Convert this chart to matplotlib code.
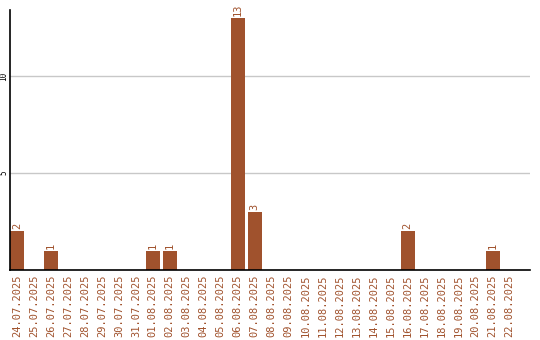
import matplotlib
matplotlib.use("Agg")
import matplotlib.pyplot as plt

dates = ["24.07.2025", "25.07.2025", "26.07.2025", "27.07.2025", "28.07.2025",
         "29.07.2025", "30.07.2025", "31.07.2025", "01.08.2025", "02.08.2025",
         "03.08.2025", "04.08.2025", "05.08.2025", "06.08.2025", "07.08.2025",
         "08.08.2025", "09.08.2025", "10.08.2025", "11.08.2025", "12.08.2025",
         "13.08.2025", "14.08.2025", "15.08.2025", "16.08.2025", "17.08.2025",
         "18.08.2025", "19.08.2025", "20.08.2025", "21.08.2025", "22.08.2025"]
counts = [2, 0, 1, 0, 0, 0, 0, 0, 1, 1, 0, 0, 0, 13, 3,
          0, 0, 0, 0, 0, 0, 0, 0, 2, 0, 0, 0, 0, 1, 0]
yticks = [5, 10]

color = "#A0522D"
fig = plt.figure(figsize=(5.4, 3.4), dpi=100)
ax = fig.add_axes([10/540, 70/340, 520/540, 260/340])
x = list(range(len(dates)))
ax.bar(x, counts, width=0.82, color=color, zorder=2)
for xi, c in zip(x, counts):
    if c > 0:
        ax.text(xi, c + 0.1, str(c), rotation=90, ha="center", va="bottom",
                color=color, fontsize=7.5, family="DejaVu Sans Mono")
ax.set_xlim(-0.41, 30.2)
ax.set_ylim(0, 13.4)
ax.set_yticks(yticks)
ax.set_yticklabels([str(t) for t in yticks], rotation=90, fontsize=5.5,
                   family="DejaVu Sans Mono", va="center")
ax.set_xticks(x)
ax.set_xticklabels(dates, rotation=90, fontsize=7.5, color=color,
                   family="DejaVu Sans Mono")
ax.tick_params(axis="x", length=0, pad=3)
ax.tick_params(axis="y", length=0, pad=1)
ax.grid(axis="y", color="#c8c8c8", linewidth=1, zorder=0)
for s in ["top", "right"]:
    ax.spines[s].set_visible(False)
for s in ["left", "bottom"]:
    ax.spines[s].set_color("black")
    ax.spines[s].set_linewidth(1.2)
fig.savefig("out.png", dpi=100)
